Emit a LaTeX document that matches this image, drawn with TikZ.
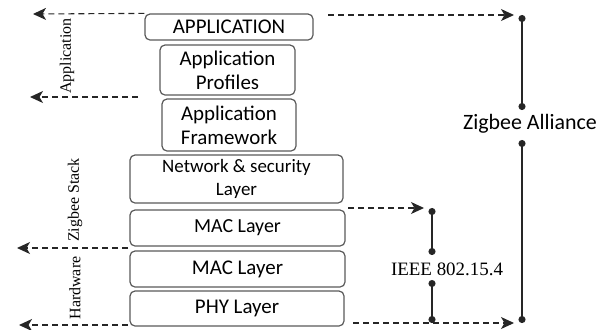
\documentclass[tikz,border=0pt]{standalone}
\usepackage{fontspec}
\setmainfont{Carlito}
\newfontfamily\timesf{Liberation Serif}
\usetikzlibrary{calc,positioning,arrows.meta}

\begin{document}
\begin{tikzpicture}[x=1bp, y=-1bp, >={Stealth[length=13bp,width=12bp,inset=3.5bp]},
    layer/.style={draw=black!65, line width=1.2bp, rounded corners=5bp, align=center,
      font=\fontsize{21}{24}\selectfont, inner sep=0pt},
    dashline/.style={dashed, dash pattern=on 6bp off 4bp, line width=1.1bp, black!85},
    bar/.style={line width=1.6bp, black!85, {Circle[length=7bp]}-{Circle[length=7bp]}},
    sidelabel/.style={rotate=90, font=\timesf\fontsize{16}{18}\selectfont, inner sep=0pt}
  ]
    \useasboundingbox (0,0) rectangle (607,329);

    % layers of the stack (top to bottom)
    \node[layer, minimum width=168bp, minimum height=26bp] (app)   at (229,27)    {APPLICATION};
    \node[layer, minimum width=135bp, minimum height=50bp] (prof)  at (227.5,70)  {Application\\Profiles};
    \node[layer, minimum width=134bp, minimum height=52bp] (frame) at (229,125)   {Application\\Framework};
    \node[layer, minimum width=213bp, minimum height=48bp, font=\fontsize{19}{23}\selectfont]
                                                           (net)   at (236.5,179) {Network \& security\\Layer};
    \node[layer, minimum width=215bp, minimum height=36bp, font=\fontsize{20}{24}\selectfont]
                                                           (mac1)  at (237.5,228) {MAC Layer};
    \node[layer, minimum width=215bp, minimum height=36bp] (mac2)  at (237.5,269) {MAC Layer};
    \node[layer, minimum width=214bp, minimum height=35bp] (phy)   at (237,308.5) {PHY Layer};

    % end points of the brackets
    \coordinate (za1) at (522,15);
    \coordinate (za2) at (522,110);
    \coordinate (za3) at (522,140);
    \coordinate (za4) at (522,323);
    \coordinate (ie1) at (432,208);
    \coordinate (ie2) at (432,255);
    \coordinate (ie3) at (432,280);
    \coordinate (ie4) at (432,323);

    % free ends of the dashed arrows
    \coordinate (l1) at (33,14);
    \coordinate (l2s) at (138,97);
    \coordinate (l2) at (30,97);
    \coordinate (l3s) at (128,248);
    \coordinate (l3) at (17,248);
    \coordinate (l4s) at (128,325);
    \coordinate (l4) at (19,325);
    \coordinate (r1s) at (328,15);
    \coordinate (r2s) at (348,208);
    \coordinate (r3s) at (353,323);

    % left: scope of each part
    \draw[dashline, ->] (app.north west) -- (l1);
    \draw[dashline, ->] (l2s) -- (l2);
    \draw[dashline, ->] (l3s) -- (l3);
    \draw[dashline, ->] (l4s) -- (l4);

    \node[sidelabel] (lapp) at (67,56)  {Application};
    \node[sidelabel] (lzs)  at (75,200) {Zigbee Stack};
    \node[sidelabel] (lhw)  at (75,288) {Hardware};

    % right: who defines what
    \draw[dashline, ->, shorten >=8bp] (r1s) -- (za1);
    \draw[dashline, ->, shorten >=8bp] (r2s) -- (ie1);
    \draw[dashline, ->, shorten >=8bp] (r3s) -- (za4);

    \draw[bar] (za1) -- (za2);
    \draw[bar] (za3) -- (za4);
    \draw[bar] (ie1) -- (ie2);
    \draw[bar] (ie3) -- (ie4);

    \node[font=\fontsize{22}{24}\selectfont] (za) at (530,124) {Zigbee Alliance};
    \node[font=\timesf\fontsize{19}{21}\selectfont] (ieee) at (447,269) {IEEE 802.15.4};
  \end{tikzpicture}
\end{document}
